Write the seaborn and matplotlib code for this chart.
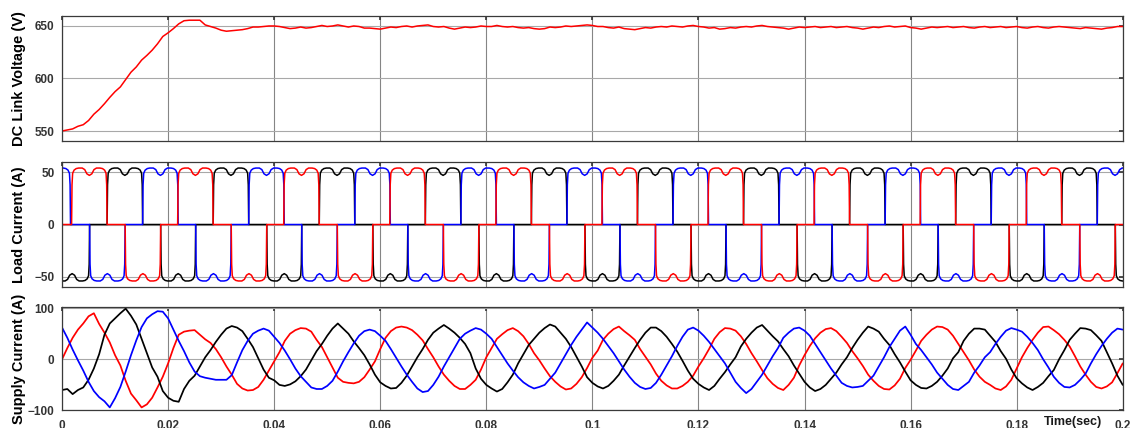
import numpy as np
import matplotlib
matplotlib.use("Agg")
import matplotlib.pyplot as plt
import seaborn as sns

# ---- data (time grid in ms, 1 ms step) ----
t_ms = np.arange(0, 201)

dc_voltage = [
    550, 551, 552, 554.5, 556, 560, 566, 570.5, 576, 582,
    587.5, 592, 599, 606, 611, 617.5, 622, 627, 633, 640,
    643.5, 647.5, 652, 655, 655.5, 655.5, 655.5, 651, 649.5, 648,
    646, 645, 645.5, 646, 646.5, 647.5, 649, 649, 649.5, 650,
    650, 649.5, 648.5, 647.5, 648, 649, 648, 648.5, 649.5, 650.5,
    649.5, 650, 651, 650, 649, 650, 649.5, 648, 648, 647.5,
    647, 648, 649, 648.5, 649.5, 650, 649, 650, 650.5, 651,
    649.5, 649, 649.5, 648, 647, 648, 649, 648.5, 649, 650,
    649.5, 649.5, 650.5, 649.5, 649, 649.5, 648.5, 648, 648.5, 647.5,
    647, 647.5, 649, 648.5, 649, 650, 649.5, 650, 650.5, 651,
    650.5, 649.5, 649.5, 648.5, 648, 649, 647.5, 647, 646.5, 647.5,
    648.5, 648, 649, 649.5, 649, 650, 649.5, 649, 650, 650.5,
    649.5, 649, 648, 648.5, 647, 647.5, 648.5, 648, 649, 649.5,
    649, 650, 650.5, 649.5, 649, 648.5, 648, 647, 648, 649,
    648.5, 649, 649.5, 648.5, 649, 649.5, 648.5, 649, 649.5, 648.5,
    648, 647, 648, 649, 648.5, 649.5, 650, 649, 649.5, 650,
    648.5, 648, 647, 648, 649, 648.5, 649, 649.5, 648.5, 649,
    649.5, 648.5, 648, 649, 649.5, 648.5, 649, 649.5, 648.5, 649,
    649.5, 648.5, 648, 649, 649.5, 648.5, 648, 649, 649.5, 649,
    648.5, 648, 647.5, 648.5, 648, 647.5, 647, 648, 648.5, 649.5,
    649.5,
]

supply_red = [
    0, 22, 42, 58, 70, 84, 90, 69, 52, 33,
    8, -12, -42, -67, -80, -94, -88, -75, -55, -34,
    -8, 22, 48, 54, 56, 57, 48, 39, 32, 20,
    4, -14, -30, -48, -57, -61, -60, -54, -40, -22,
    -4, 14, 36, 50, 57, 61, 60, 54, 38, 24,
    4, -16, -36, -44, -46, -47, -44, -35, -20, -4,
    20, 42, 55, 62, 64, 62, 57, 48, 37, 20,
    4, -14, -30, -42, -52, -58, -58, -50, -40, -20,
    4, 22, 40, 49, 57, 61, 55, 45, 30, 12,
    -2, -18, -33, -44, -53, -59, -57, -48, -35, -17,
    3, 17, 38, 50, 59, 64, 55, 47, 38, 20,
    5, -10, -28, -42, -51, -57, -57, -52, -44, -32,
    -14, 2, 20, 40, 53, 61, 60, 56, 45, 30,
    12, -4, -21, -37, -48, -56, -60, -50, -36, -12,
    8, 26, 41, 52, 59, 61, 55, 44, 32, 16,
    2, -13, -30, -42, -52, -58, -59, -51, -38, -17,
    -1, 17, 36, 48, 58, 64, 63, 58, 46, 30,
    14, -2, -20, -34, -44, -50, -57, -60, -53, -40,
    -18, 4, 22, 38, 52, 63, 64, 57, 49, 38,
    25, 6, -14, -30, -44, -54, -57, -53, -45, -27,
    -8,
]

supply_black = [
    -60, -58, -68, -60, -55, -40, -18, 10, 48, 70,
    80, 90, 99, 85, 68, 40, 12, -16, -34, -62,
    -75, -81, -83, -58, -42, -32, -14, 4, 18, 34,
    48, 60, 65, 62, 55, 40, 24, 2, -20, -36,
    -41, -50, -52, -49, -43, -33, -20, -2, 16, 30,
    46, 60, 70, 60, 50, 35, 22, 8, -10, -30,
    -45, -52, -57, -56, -46, -32, -14, 4, 20, 38,
    52, 60, 67, 60, 52, 42, 30, 12, -18, -38,
    -50, -57, -63, -58, -45, -30, -8, 10, 28, 40,
    52, 61, 68, 64, 52, 40, 24, 5, -14, -35,
    -46, -53, -57, -52, -42, -30, -12, 5, 22, 38,
    52, 62, 62, 55, 44, 30, 15, -3, -22, -38,
    -48, -55, -60, -52, -38, -25, -10, 4, 25, 40,
    52, 62, 67, 56, 45, 35, 20, 6, -12, -28,
    -44, -55, -62, -58, -50, -38, -26, -10, 4, 22,
    38, 52, 64, 60, 54, 40, 28, 10, -6, -24,
    -41, -50, -56, -57, -52, -44, -32, -18, 2, 14,
    36, 50, 60, 60, 58, 46, 34, 16, 1, -20,
    -37, -47, -55, -60, -54, -46, -33, -21, 0, 18,
    38, 50, 61, 60, 57, 47, 36, 14, -8, -32,
    -50,
]

supply_blue = [
    62, 42, 19, -2, -22, -44, -62, -74, -82, -94,
    -76, -54, -24, 8, 37, 63, 80, 88, 94, 93,
    80, 58, 36, 16, -6, -24, -33, -36, -38, -40,
    -40, -40, -31, -6, 18, 36, 50, 56, 60, 56,
    44, 32, 17, 0, -18, -33, -44, -55, -58, -58,
    -52, -42, -24, -4, 14, 31, 46, 55, 58, 55,
    46, 36, 20, 3, -14, -30, -44, -57, -64, -62,
    -50, -34, -14, 4, 22, 40, 50, 56, 61, 58,
    50, 40, 24, 8, -8, -22, -35, -45, -52, -57,
    -54, -50, -38, -26, -8, 10, 28, 44, 58, 72,
    62, 52, 40, 26, 12, -4, -20, -34, -46, -54,
    -58, -56, -46, -30, -12, 6, 26, 44, 58, 62,
    56, 46, 34, 20, 6, -8, -26, -44, -56, -66,
    -58, -44, -30, -12, 6, 22, 42, 52, 60, 62,
    56, 46, 30, 14, -2, -18, -32, -46, -52, -55,
    -54, -52, -42, -32, -14, 4, 24, 40, 56, 64,
    48, 30, 18, 4, -10, -26, -38, -50, -58, -60,
    -52, -44, -26, -12, 4, 14, 30, 44, 56, 61,
    58, 54, 44, 32, 18, 0, -16, -34, -46, -54,
    -55, -50, -40, -28, -8, 10, 26, 40, 52, 60,
    58,
]

# load current: switching instants (ms) of each six-step pulse
red_pos_on = [1.8, 21.8, 41.8, 61.8, 81.8, 101.8, 121.8, 141.8, 161.8, 181.8, 201.8]
red_pos_off = [8.5, 28.5, 48.5, 68.5, 88.5, 108.5, 128.5, 148.5, 168.5, 188.5, 208.5]
red_neg_on = [-8.1, 11.9, 31.9, 51.9, 71.9, 91.9, 111.9, 131.9, 151.9, 171.9, 191.9]
red_neg_off = [-1.4, 18.6, 38.6, 58.6, 78.6, 98.6, 118.6, 138.6, 158.6, 178.6, 198.6]

black_pos_on = [8.5, 28.5, 48.5, 68.5, 88.5, 108.5, 128.5, 148.5, 168.5, 188.5]
black_pos_off = [15.2, 35.2, 55.2, 75.2, 95.2, 115.2, 135.2, 155.2, 175.2, 195.2]
black_neg_on = [-1.4, 18.6, 38.6, 58.6, 78.6, 98.6, 118.6, 138.6, 158.6, 178.6, 198.6]
black_neg_off = [5.2, 25.2, 45.2, 65.2, 85.2, 105.2, 125.2, 145.2, 165.2, 185.2, 205.2]

blue_pos_on = [-5.1, 15.2, 35.2, 55.2, 75.2, 95.2, 115.2, 135.2, 155.2, 175.2, 195.2]
blue_pos_off = [1.6, 21.9, 41.9, 61.9, 81.9, 101.9, 121.9, 141.9, 161.9, 181.9, 201.9]
blue_neg_on = [5.2, 25.2, 45.2, 65.2, 85.2, 105.2, 125.2, 145.2, 165.2, 185.2]
blue_neg_off = [11.9, 31.9, 51.9, 71.9, 91.9, 111.9, 131.9, 151.9, 171.9, 191.9]

# shape of one conducting interval (fraction of interval, current in A)
pulse_frac = [0.0, 0.012, 0.03, 0.07, 0.13, 0.2, 0.3, 0.37, 0.43, 0.5,
              0.57, 0.63, 0.7, 0.8, 0.87, 0.93, 0.97, 0.988, 1.0]
pulse_level = [0, 38, 49, 52, 53.5, 54, 54, 52.5, 48.5, 47,
               48.5, 52.5, 54, 54, 53.5, 52, 49, 38, 0]

xtick_vals = [0, 0.02, 0.04, 0.06, 0.08, 0.1, 0.12, 0.14, 0.16, 0.18, 0.2]
xtick_text = ['0', '0.02', '0.04', '0.06', '0.08', '0.1', '0.12', '0.14', '0.16', '0.18', '0.2']


def pulse_train(pos_on, pos_off, neg_on, neg_off):
    pulses = [(a, b, 1) for a, b in zip(pos_on, pos_off)]
    pulses += [(a, b, -1) for a, b in zip(neg_on, neg_off)]
    ts, vs = [], []
    for a, b, s in sorted(pulses):
        for f, lv in zip(pulse_frac, pulse_level):
            ts.append((a + f * (b - a)) / 1000)
            vs.append(s * lv)
    return ts, vs


sns.set_theme(style='white')
plt.rcParams['font.family'] = ['Liberation Sans', 'DejaVu Sans']
plt.rcParams['font.weight'] = 'bold'
plt.rcParams['axes.labelweight'] = 'bold'

t = t_ms / 1000

fig = plt.figure(figsize=(11.32, 4.28), dpi=100)
ax1 = fig.add_axes([0.0548, 0.6706, 0.937, 0.292])
ax2 = fig.add_axes([0.0548, 0.3301, 0.937, 0.2907])
ax3 = fig.add_axes([0.0548, 0.0409, 0.937, 0.241])

# DC link voltage
sns.lineplot(x=t, y=dc_voltage, ax=ax1, color='#ff0000', linewidth=1.1,
             estimator=None, sort=False)
ax1.set_ylim(540.5, 659.5)
ax1.set_yticks([550, 600, 650])
ax1.set_ylabel('DC Link Voltage (V)')

# load currents
for on_p, off_p, on_n, off_n, col in [
        (black_pos_on, black_pos_off, black_neg_on, black_neg_off, 'black'),
        (blue_pos_on, blue_pos_off, blue_neg_on, blue_neg_off, '#0000ff'),
        (red_pos_on, red_pos_off, red_neg_on, red_neg_off, '#ff0000')]:
    ts, vs = pulse_train(on_p, off_p, on_n, off_n)
    sns.lineplot(x=ts, y=vs, ax=ax2, color=col, linewidth=1.1,
                 estimator=None, sort=False)
ax2.set_ylim(-59.5, 59.5)
ax2.set_yticks([-50, 0, 50])
ax2.set_ylabel('Load Current (A)')

# supply currents
for vals, col in [(supply_red, '#ff0000'), (supply_black, 'black'), (supply_blue, '#0000ff')]:
    sns.lineplot(x=t, y=vals, ax=ax3, color=col, linewidth=1.25,
                 estimator=None, sort=False)
ax3.set_ylim(-100, 101.5)
ax3.set_yticks([-100, 0, 100])
ax3.set_ylabel('Supply Current (A)')

for ax in (ax1, ax2, ax3):
    ax.set_xlim(0, 0.2)
    ax.set_xticks(xtick_vals)
    ax.set_xticklabels(xtick_text)
    ax.set_xlabel('')
    ax.grid(True, axis='x', color='#858585', linewidth=0.8)
    ax.grid(True, axis='y', color='#a8a8a8', linewidth=0.8)
    ax.set_axisbelow(True)
    for sp in ax.spines.values():
        sp.set_color('#3a3a3a')
        sp.set_linewidth(0.9)
    ax.tick_params(direction='in', length=3, top=True, right=True,
                   colors='#3a3a3a', labelsize=8.5, labelcolor='#333333')
    ax.tick_params(axis='y', pad=5.5)
    ax.tick_params(axis='x', pad=7)
    ax.yaxis.label.set_fontsize(10.5)
    ax.yaxis.label.set_color('black')
    ax.yaxis.set_label_coords(-0.034, 0.5)
    for lbl in ax.get_xticklabels() + ax.get_yticklabels():
        lbl.set_fontweight('bold')

ax1.tick_params(labelbottom=False)
ax2.tick_params(labelbottom=False)

ax3.text(0.1906, -0.115, 'Time(sec)', transform=ax3.get_xaxis_transform(),
         ha='center', va='center', fontsize=9, fontweight='bold', color='#1a1a1a')

fig.savefig('out.png', dpi=100)
